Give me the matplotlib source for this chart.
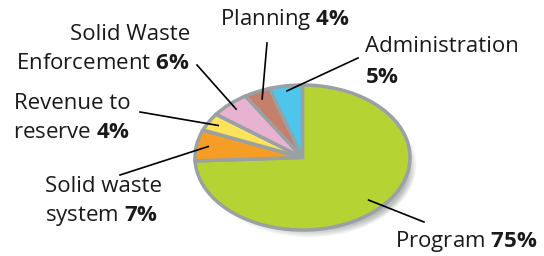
import numpy as np
import matplotlib
matplotlib.use("Agg")
from matplotlib import pyplot as plt
from matplotlib.patches import Ellipse

plt.rcParams['font.family'] = 'Open Sans'
plt.rcParams['mathtext.fontset'] = 'custom'
plt.rcParams['mathtext.rm'] = 'Open Sans'
plt.rcParams['mathtext.bf'] = 'Open Sans:bold'

nomes = ["Program", "Solid waste\nsystem", "Revenue to\nreserve",
         "Solid Waste\nEnforcement", "Planning", "Administration\n"]
valores = [75, 7, 4, 6, 4, 5]
cores = ["#b6d334", "#f59d25", "#fde25c", "#e8b3d0", "#c4806a", "#4ec6ec"]

# posicoes dos textos (pixels, origem em cima) e fim das linhas
texto_pos = [(395, 242, 'left'), (45, 202, 'left'), (72, 118, 'center'),
             (190, 49, 'right'), (220, 20, 'left'), (365, 62, 'left')]
espaco = [1.0, 1.45, 1.55, 1.45, 1.0, 1.65]
linha_fim = [(424, 222), (120, 175), (140, 112), (197, 65), (267, 43), (358, 58)]
raio_linha = [0.85, 0.89, 0.9, 0.91, 0.89, 0.93]

W, H = 544, 256
cx, cy, rx, ry = 302.5, 157.5, 107.5, 72.5


def px(x, y):
    return (x - cx) / rx, (cy - y) / ry


fig = plt.figure(figsize=(W / 100, H / 100), dpi=100)
ax = fig.add_axes([0, 0, 1, 1])

# sombra
for k in range(14):
    ax.add_patch(Ellipse((0.06 + k * 0.004, -0.10 - k * 0.006), 2.0 - k * 0.02, 2.0 - k * 0.03,
                         color="#6b6f72", alpha=0.04, zorder=0, lw=0))

wedges, _ = ax.pie(valores, colors=cores, startangle=90, counterclock=False,
                   wedgeprops=dict(edgecolor="#9aa1a4", linewidth=2.5))
for w in wedges:
    w.set_zorder(2)

total = sum(valores)
ang = 90
for i, v in enumerate(valores):
    meio = ang - v / total * 360 / 2
    ang -= v / total * 360
    r = raio_linha[i]
    x0, y0 = r * np.cos(np.radians(meio)), r * np.sin(np.radians(meio))
    x1, y1 = px(*linha_fim[i])
    ax.plot([x0, x1], [y0, y1], color="black", lw=1.2, zorder=3)
    tx, ty = px(texto_pos[i][0], texto_pos[i][1])
    linhas = nomes[i].split("\n")
    pct = r"$\mathbf{" + str(v) + r"\%}$"
    if linhas[-1] == "":
        txt = linhas[0] + "\n" + pct
    else:
        linhas[-1] = linhas[-1] + " " + pct
        txt = "\n".join(linhas)
    ax.text(tx, ty, txt, ha=texto_pos[i][2], va='center', fontsize=16,
            color="#1a1a1a", linespacing=espaco[i], zorder=4)

ax.set_aspect('auto')
ax.set_xlim(-cx / rx, (W - cx) / rx)
ax.set_ylim((cy - H) / ry, cy / ry)
ax.axis('off')

plt.savefig("out.png", dpi=100)
